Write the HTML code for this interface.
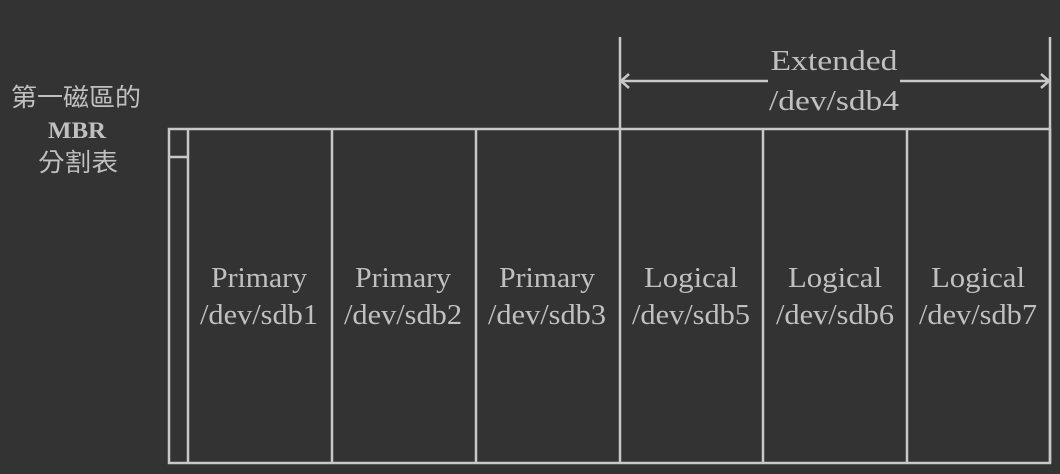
<!DOCTYPE html>
<html><head><meta charset="utf-8"><style>
html,body{margin:0;padding:0;background:#333333;width:1060px;height:474px;overflow:hidden}
svg text{font-family:"Liberation Serif","Noto Serif CJK SC",serif;fill:#c0c0c0}
</style></head><body>
<svg width="1060" height="474" viewBox="0 0 1060 474">
<rect x="0" y="0" width="1060" height="474" fill="#333333"/>
<g stroke="#c8c8c8" stroke-width="2.5" fill="none">
<rect x="169" y="129" width="881" height="334"/>
<line x1="169" y1="157" x2="188" y2="157"/>
<line x1="188" y1="129" x2="188" y2="463"/>
<line x1="332" y1="129" x2="332" y2="463"/>
<line x1="476" y1="129" x2="476" y2="463"/>
<line x1="620" y1="37" x2="620" y2="463"/>
<line x1="763" y1="129" x2="763" y2="463"/>
<line x1="907" y1="129" x2="907" y2="463"/>
<line x1="1050" y1="37" x2="1050" y2="463"/>
<line x1="620" y1="81" x2="768" y2="81"/>
<line x1="900" y1="81" x2="1050" y2="81"/>
<polyline points="629,74 621,81 629,88"/>
<polyline points="1041,74 1049,81 1041,88"/>
</g>
<g font-size="29" text-anchor="middle" lengthAdjust="spacingAndGlyphs">
<text x="834" y="70" textLength="127" lengthAdjust="spacingAndGlyphs">Extended</text>
<text x="834" y="110" textLength="130" lengthAdjust="spacingAndGlyphs">/dev/sdb4</text>
<text x="259" y="287" textLength="96" lengthAdjust="spacingAndGlyphs">Primary</text>
<text x="259" y="324" textLength="118" lengthAdjust="spacingAndGlyphs">/dev/sdb1</text>
<text x="403" y="287" textLength="96" lengthAdjust="spacingAndGlyphs">Primary</text>
<text x="403" y="324" textLength="118" lengthAdjust="spacingAndGlyphs">/dev/sdb2</text>
<text x="547" y="287" textLength="96" lengthAdjust="spacingAndGlyphs">Primary</text>
<text x="547" y="324" textLength="118" lengthAdjust="spacingAndGlyphs">/dev/sdb3</text>
<text x="691" y="287" textLength="94" lengthAdjust="spacingAndGlyphs">Logical</text>
<text x="691" y="324" textLength="118" lengthAdjust="spacingAndGlyphs">/dev/sdb5</text>
<text x="835" y="287" textLength="94" lengthAdjust="spacingAndGlyphs">Logical</text>
<text x="835" y="324" textLength="118" lengthAdjust="spacingAndGlyphs">/dev/sdb6</text>
<text x="978" y="287" textLength="94" lengthAdjust="spacingAndGlyphs">Logical</text>
<text x="978" y="324" textLength="118" lengthAdjust="spacingAndGlyphs">/dev/sdb7</text>
</g>
<g text-anchor="middle">
<text x="76" y="106" font-size="25" textLength="130" lengthAdjust="spacingAndGlyphs" style='font-family:"Noto Sans CJK TC",sans-serif'>第一磁區的</text>
<text x="77" y="138" font-size="23" font-weight="bold" textLength="58" lengthAdjust="spacingAndGlyphs">MBR</text>
<text x="78" y="171" font-size="25" textLength="80" lengthAdjust="spacingAndGlyphs" style='font-family:"Noto Sans CJK TC",sans-serif'>分割表</text>
</g>
</svg>
</body></html>
